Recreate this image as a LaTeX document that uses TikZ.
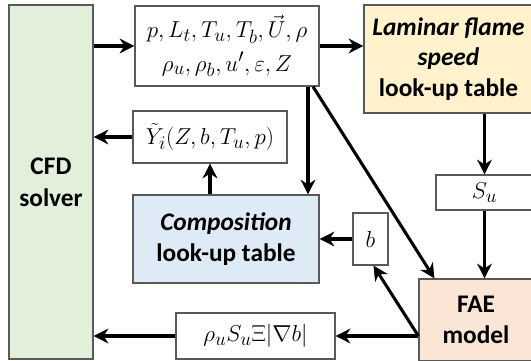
\documentclass[tikz,border=0pt]{standalone}
\usepackage{fontspec}
\setmainfont{Carlito}
\usetikzlibrary{arrows.meta,calc}
\definecolor{cfdgreen}{HTML}{E2EFDA}
\definecolor{lamyellow}{HTML}{FFF2CC}
\definecolor{compblue}{HTML}{DEEBF7}
\definecolor{faepink}{HTML}{FBE5D6}
\definecolor{bordergray}{HTML}{595959}
\begin{document}
\begin{tikzpicture}[x=0.75pt,y=-0.75pt,
  box/.style={draw=bordergray,line width=0.9pt,rectangle,inner sep=0pt,align=center,
    font=\fontsize{19}{23}\selectfont\bfseries},
  mbox/.style={draw=bordergray,line width=0.9pt,rectangle,inner sep=0pt,align=center,fill=white,
    font=\fontsize{19}{21}\selectfont},
  arr/.style={line width=2.3pt,-{Stealth[length=11pt,width=11pt,inset=3.5pt]}}]
\clip (0,0) rectangle (531,360);
\fill[white] (0,0) rectangle (531,360);
% nodes
\node[box,fill=cfdgreen,minimum width=84*0.75pt,minimum height=354*0.75pt] (cfd) at (51,182) {CFD\\[1pt]solver};
\node[mbox,minimum width=184*0.75pt,minimum height=80*0.75pt] (par) at (227,46)
  {$p, L_t, T_u, T_b, \vec{U}, \rho$\\[4pt]$\rho_u, \rho_b, u', \varepsilon, Z$};
\node[box,fill=lamyellow,minimum width=169*0.75pt,minimum height=108*0.75pt] (lam) at (448.5,59)
  {\textit{Laminar flame}\\\textit{speed}\\look-up table};
\node[mbox,minimum width=97*0.75pt,minimum height=35*0.75pt] (su) at (484.5,192.5) {$S_u$};
\node[box,fill=faepink,minimum width=114*0.75pt,minimum height=82*0.75pt] (fae) at (476,320) {FAE\\model};
\node[mbox,minimum width=154*0.75pt,minimum height=52*0.75pt] (yt) at (210,137) {$\tilde{Y}_i(Z,b,T_u,p)$};
\node[box,fill=compblue,minimum width=186*0.75pt,minimum height=88*0.75pt] (comp) at (226,239)
  {\textit{Composition}\\look-up table};
\node[mbox,minimum width=35*0.75pt,minimum height=52*0.75pt] (b) at (370.5,239) {$b$};
\node[mbox,minimum width=159*0.75pt,minimum height=46*0.75pt] (rho) at (255.5,336) {$\rho_u S_u \Xi |\nabla b|$};
% helper coordinates
\coordinate (pv) at ($(par.south)+(81,0)$);
\coordinate (pd) at ($(par.south)+(86,0)$);
\coordinate (fd) at ($(fae.north west)+(16,0)$);
\coordinate (bs) at ($(b.south)+(3,0)$);
% connectors
\draw[arr] (par.west -| cfd.east) -- (par.west);
\draw[arr] (par.east) -- (par.east -| lam.west);
\draw[arr] (yt.west) -- (yt.west -| cfd.east);
\draw[arr] (yt.south |- comp.north) -- (yt.south);
\draw[arr] (pv) -- (pv |- comp.north);
\draw[arr] (pd) -- (fd);
\draw[arr] (lam.south -| su.north) -- (su.north);
\draw[arr] (su.south) -- (su.south |- fae.north);
\draw[arr] (b.west) -- (b.west -| comp.east);
\draw[arr] (rho.east -| fae.west) -- (bs);
\draw[arr] (rho.east -| fae.west) -- (rho.east);
\draw[arr] (rho.west) -- (rho.west -| cfd.east);
\end{tikzpicture}
\end{document}
